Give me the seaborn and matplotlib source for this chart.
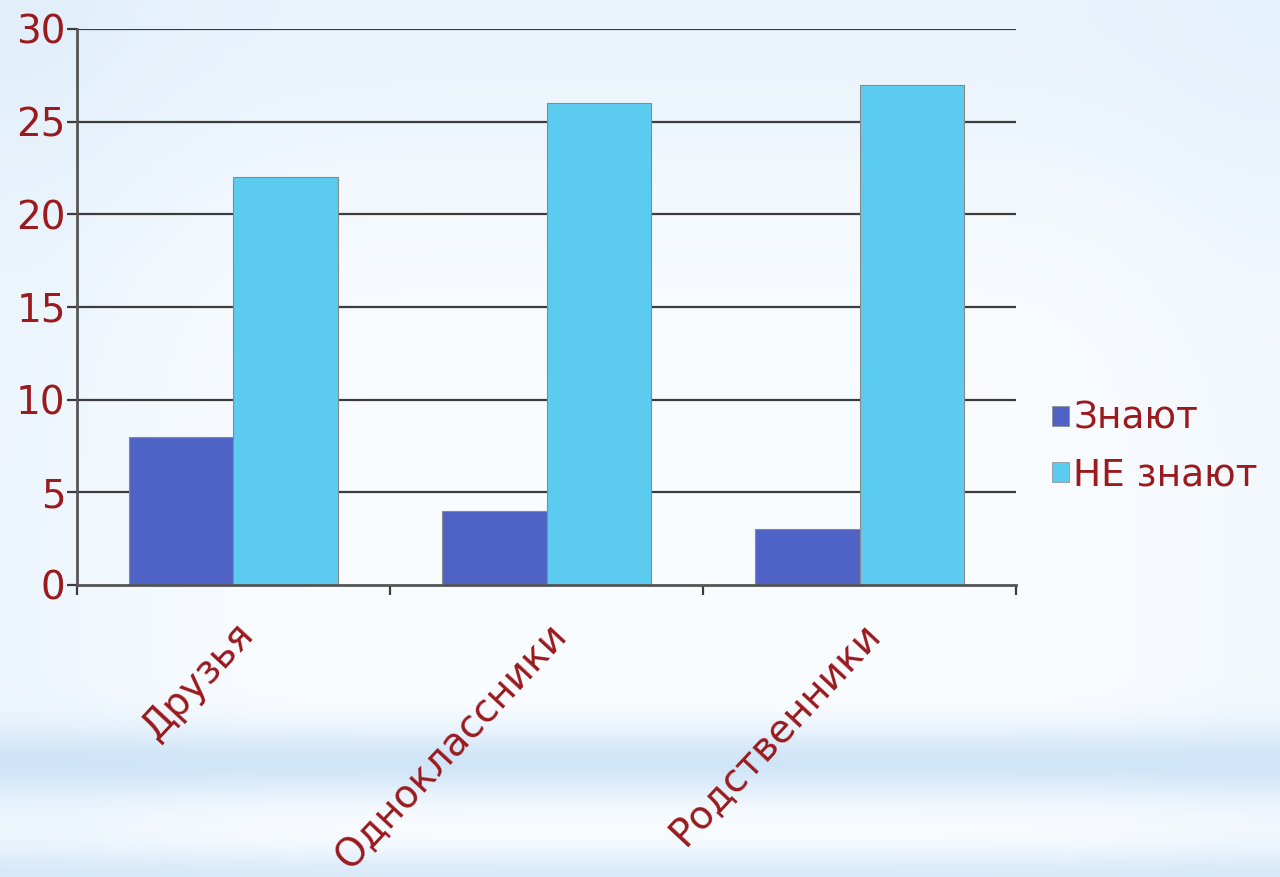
import numpy as np
import pandas as pd
import matplotlib
matplotlib.use("Agg")
import matplotlib.pyplot as plt
import seaborn as sns
from matplotlib.patches import Patch

categories = ["Друзья", "Одноклассники", "Родственники"]
series_names = ["Знают", "НЕ знают"]
know = [8, 4, 3]
dont_know = [22, 26, 27]
y_ticks = [0, 5, 10, 15, 20, 25, 30]

colors = ["#4F63C6", "#5BCBF0"]
text_color = "#9A1A1E"

df = pd.DataFrame({
    "cat": categories * 2,
    "series": [series_names[0]] * 3 + [series_names[1]] * 3,
    "value": know + dont_know,
})

sns.set_theme(style="white")
plt.rcParams['font.family'] = ['DejaVu Sans']

fig = plt.figure(figsize=(12.8, 8.77), dpi=100)

# background gradient
bg = fig.add_axes([0, 0, 1, 1], zorder=-10)
h = 877
yy = np.linspace(0, 1, h)
prof = np.zeros(h)
for i, t in enumerate(yy):
    v = 0.35 * np.exp(-((t - 0.0) / 0.25) ** 2)
    v += 0.9 * np.exp(-((t - 0.87) / 0.04) ** 2)
    v += 0.7 * np.exp(-((t - 1.0) / 0.03) ** 2)
    prof[i] = min(v, 1)
xx = np.linspace(0, 1, 400)
horiz = 0.25 * np.exp(-((xx - 0.0) / 0.15) ** 2) + 0.15 * np.exp(-((xx - 1.0) / 0.12) ** 2)
strength = np.clip(prof[:, None] + horiz[None, :] * (1 - prof[:, None]), 0, 1)
white = np.array([0.98, 0.99, 1.0])
blue = np.array([0.80, 0.89, 0.97])
img = white[None, None, :] * (1 - strength[..., None]) + blue[None, None, :] * strength[..., None]
bg.imshow(img, aspect="auto", extent=[0, 1, 0, 1])
bg.axis("off")

ax = fig.add_axes([0.060, 0.333, 0.734, 0.634])
ax.set_facecolor("none")
sns.barplot(data=df, x="cat", y="value", hue="series", order=categories,
            hue_order=series_names, palette=colors, width=0.667,
            edgecolor="#8a8a8a", linewidth=0.8, saturation=1, ax=ax, legend=False, zorder=3)

ax.set_xlim(-0.5, 2.5)
ax.set_ylim(0, 30)
ax.set_yticks(y_ticks)
ax.set_xlabel("")
ax.set_ylabel("")
for y in y_ticks[1:]:
    ax.axhline(y, color="#3c3c3c", lw=1.6, zorder=1)
for s in ["top", "right"]:
    ax.spines[s].set_visible(False)
for s in ["left", "bottom"]:
    ax.spines[s].set_color("#555555")
    ax.spines[s].set_linewidth(2)
    ax.spines[s].set_zorder(4)

ax.tick_params(axis="y", which="major", length=7, width=1.6, color="#3c3c3c",
               labelsize=28, labelcolor=text_color, pad=1, direction="out", left=True)
ax.set_xticks([0, 1, 2])
ax.set_xticklabels(categories, rotation=47, ha="right", va="top", rotation_mode="anchor")
ax.set_xticks([-0.5, 0.5, 1.5, 2.5], minor=True)
ax.tick_params(axis="x", which="major", length=0, labelsize=28, labelcolor=text_color, pad=22)
ax.tick_params(axis="x", which="minor", length=7, width=1.6, color="#3c3c3c", direction="out", bottom=True)

handles = [Patch(facecolor=colors[0], edgecolor="#8a8a8a", linewidth=0.5),
           Patch(facecolor=colors[1], edgecolor="#8a8a8a", linewidth=0.5)]
leg = fig.legend(handles, series_names, loc="center left", bbox_to_anchor=(0.81, 0.490),
                 frameon=False, fontsize=27, handlelength=0.45, handleheight=0.45,
                 handletextpad=0.12, labelspacing=0.55, borderaxespad=0)
for t in leg.get_texts():
    t.set_color(text_color)

fig.savefig("out.png", dpi=100)
